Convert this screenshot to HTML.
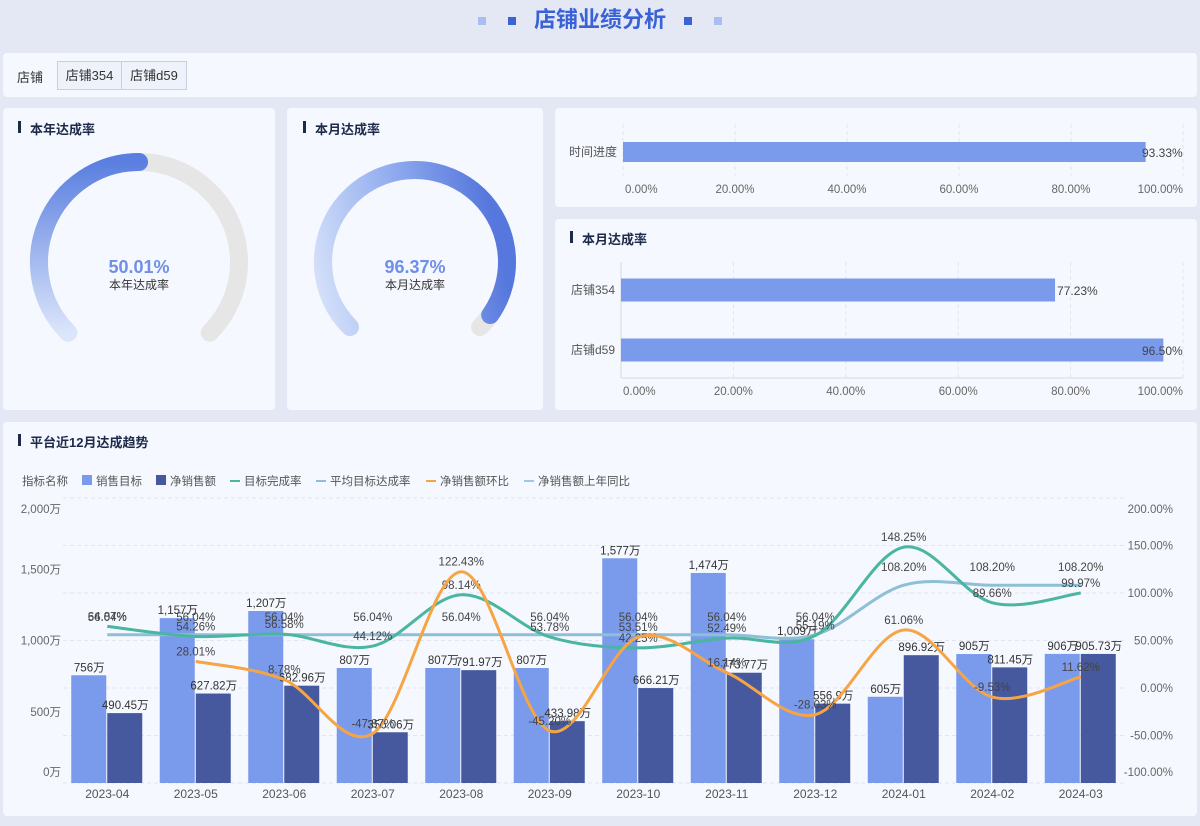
<!DOCTYPE html>
<html><head><meta charset="utf-8">
<style>
body{margin:0;width:1200px;height:826px;background:#e3e8f4;font-family:"Liberation Sans","Noto Sans CJK SC",sans-serif;position:relative;overflow:hidden;color:#333}
.card{position:absolute;background:#f5f8fe;border-radius:4px}
.ttl{position:absolute;font-size:13px;font-weight:bold;color:#1d2a4a}
.ttl:before{content:"";position:absolute;left:-12px;top:2px;width:3px;height:12px;background:#1d2a4a}
svg text{font-family:"Liberation Sans","Noto Sans CJK SC",sans-serif}
</style></head><body>
<div style="position:absolute;left:0;top:0;width:1200px;height:40px;text-align:center;line-height:40px;font-size:22px;font-weight:bold;color:#3a62d8">
<span style="display:inline-block;width:8px;height:8px;background:#a9bdf3;margin-right:22px;vertical-align:middle"></span><span style="display:inline-block;width:8px;height:8px;background:#3a62d8;margin-right:18px;vertical-align:middle"></span>店铺业绩分析<span style="display:inline-block;width:8px;height:8px;background:#3a62d8;margin-left:18px;vertical-align:middle"></span><span style="display:inline-block;width:8px;height:8px;background:#a9bdf3;margin-left:22px;vertical-align:middle"></span></div>

<div class="card" style="left:3px;top:53px;width:1194px;height:44px">
<div style="position:absolute;left:14px;top:14px;font-size:13px">店铺</div>
<div style="position:absolute;left:54px;top:8px;width:63px;height:27px;border:1px solid #c9cfe0;background:#eef2fb;font-size:13px;line-height:27px;text-align:center">店铺354</div>
<div style="position:absolute;left:118px;top:8px;width:64px;height:27px;border:1px solid #c9cfe0;background:#eef2fb;font-size:13px;line-height:27px;text-align:center">店铺d59</div>
</div>

<div class="card" style="left:3px;top:108px;width:272px;height:302px"><div class="ttl" style="left:27px;top:11px">本年达成率</div></div>
<div class="card" style="left:287px;top:108px;width:256px;height:302px"><div class="ttl" style="left:28px;top:11px">本月达成率</div></div>
<div class="card" style="left:555px;top:108px;width:642px;height:99px"></div>
<div class="card" style="left:555px;top:219px;width:642px;height:191px"><div class="ttl" style="left:27px;top:10px">本月达成率</div></div>
<div class="card" style="left:3px;top:422px;width:1194px;height:394px"><div class="ttl" style="left:27px;top:10px">平台近12月达成趋势</div></div>

<svg id="svg" width="1200" height="826" style="position:absolute;left:0;top:0">
<defs>
<linearGradient id="g1" x1="0" y1="1" x2="0" y2="0"><stop offset="0" stop-color="#dbe5fb"/><stop offset="1" stop-color="#5b7fe0"/></linearGradient>
<linearGradient id="g2" x1="0" y1="0.9" x2="1" y2="0.7"><stop offset="0" stop-color="#d4e0fa"/><stop offset="0.5" stop-color="#94afef"/><stop offset="1" stop-color="#5677dd"/></linearGradient>
</defs>
<g id="gauges"></g><g id="hbars"></g><g id="trend"></g>
</svg>

<script>
const yearRate=50.01, monthRate=96.37;
const progCats=['时间进度'], progVals=[93.33];
const storeCats=['店铺354','店铺d59'], storeVals=[77.23,96.50];
const pctTicks=[0,20,40,60,80,100];
const months=['2023-04','2023-05','2023-06','2023-07','2023-08','2023-09','2023-10','2023-11','2023-12','2024-01','2024-02','2024-03'];
const salesTarget=[756,1157,1207,807,807,807,1577,1474,1009,605,905,906];
const netSales=[490.45,627.82,682.96,356.06,791.97,433.98,666.21,773.77,556.90,896.92,811.45,905.73];
const completion=[64.87,54.26,56.58,44.12,98.14,53.78,42.25,52.49,55.19,148.25,89.66,99.97];
const avgRate=[56.04,56.04,56.04,56.04,56.04,56.04,56.04,56.04,56.04,108.20,108.20,108.20];
const mom=[null,28.01,8.78,-47.87,122.43,-45.20,53.51,16.14,-28.03,61.06,-9.53,11.62];
const leftTicks=[0,500,1000,1500,2000];
const rightTicks=[-100,-50,0,50,100,150,200];

const NS='http://www.w3.org/2000/svg';
function mk(parent,tag,attrs,txt){const e=document.createElementNS(NS,tag);for(const k in attrs)e.setAttribute(k,attrs[k]);if(txt!=null)e.textContent=txt;parent.appendChild(e);return e;}
const fmt=v=>v.toLocaleString('en-US',{maximumFractionDigits:2});

const G=document.getElementById('gauges');
function arcPath(cx,cy,r,a0,a1){const p=a=>[cx+r*Math.cos(a*Math.PI/180),cy+r*Math.sin(a*Math.PI/180)];const s=p(a0),e=p(a1);return `M${s[0]} ${s[1]} A${r} ${r} 0 ${a1-a0>180?1:0} 1 ${e[0]} ${e[1]}`;}
function gauge(cx,cy,r,val,grad,label,name){
 let bg=mk(G,'path',{d:arcPath(cx,cy,r,135,405),fill:'none',stroke:'#e6e6e6','stroke-width':18,'stroke-linecap':'round'});
 
 let fg=mk(G,'path',{d:arcPath(cx,cy,r,135,135+270*val/100),fill:'none',stroke:grad,'stroke-width':18,'stroke-linecap':'round'});
 
 let t=mk(G,'text',{x:cx,y:cy+11,'text-anchor':'middle','font-size':18,'font-weight':'bold',fill:'#6f8fe8'},val.toFixed(2)+'%');
 
 let l=mk(G,'text',{x:cx,y:cy+27,'text-anchor':'middle','font-size':12,fill:'#333'},label);
 
}
gauge(139,262,100,yearRate,'url(#g1)','本年达成率','year-gauge');
gauge(415,262,92,monthRate,'url(#g2)','本月达成率','month-gauge');

const H=document.getElementById('hbars');
function hbar(x0,x1,yTop,yBot,cats,vals,bandTop,bandH,barH,labY,name,axisLine){
 const xs=v=>x0+(x1-x0)*v/100;
 pctTicks.forEach((t,i)=>{
  let g=mk(H,'line',{x1:xs(t),x2:xs(t),y1:yTop,y2:yBot,stroke:'#e3e6ee','stroke-dasharray':'4 3'});
  
  let anc=i==0?'start':(i==pctTicks.length-1?'end':'middle');
  let tx=mk(H,'text',{x:xs(t)+(i==0?2:0),y:labY,'text-anchor':anc,'font-size':11.5,fill:'#666'},t.toFixed(2)+'%');
  
 });
 if(axisLine){let a=mk(H,'line',{x1:x0,x2:x1,y1:yBot,y2:yBot,stroke:'#d5d9e2'});
  let b=mk(H,'line',{x1:x0,x2:x0,y1:yTop,y2:yBot,stroke:'#d5d9e2'});}
 cats.forEach((c,i)=>{
  const cy=bandTop+bandH*(i+0.5);
  let r=mk(H,'rect',{x:x0,y:cy-barH/2,width:xs(vals[i])-x0,height:barH,fill:'#7a9aeb'});
  
  let l=mk(H,'text',{x:x0-6,y:cy+4,'text-anchor':'end','font-size':12,fill:'#555'},c);
  
  let v=mk(H,'text',{x:Math.min(xs(vals[i])+2,1142),y:cy+5,'font-size':12,fill:'#444'},vals[i].toFixed(2)+'%');
  
 });
}
hbar(623,1183,124,176,progCats,progVals,122,60,20,193,'time-progress',false);
hbar(621,1183,262,378,storeCats,storeVals,260,60,23,395,'store-rate',true);

const T=document.getElementById('trend');
const X0=63,X1=1125,YB=783,YT=498;
const band=(X1-X0)/months.length;
const xc=i=>X0+band*(i+0.5);
const yL=v=>YB-(YB-YT)*v/2000;
const yR=v=>YB-(YB-YT)*(v+100)/300;
rightTicks.forEach(t=>{
 let g=mk(T,'line',{x1:X0,x2:X1,y1:yR(t),y2:yR(t),stroke:'#e1e5ee','stroke-dasharray':'4 3'});
 
 let y=Math.min(Math.max(yR(t)+4,513),776);
 let tx=mk(T,'text',{x:1173,y:y,'text-anchor':'end','font-size':11.5,fill:'#666'},t.toFixed(2)+'%');
 
});
leftTicks.forEach(t=>{
 let y=Math.min(Math.max(yL(t)+4,513),776);
 let tx=mk(T,'text',{x:61,y:y,'text-anchor':'end','font-size':11.5,fill:'#666'},fmt(t)+'万');
 
});
months.forEach((m,i)=>{
 let tx=mk(T,'text',{x:xc(i),y:798,'text-anchor':'middle','font-size':12,fill:'#555'},m);
 
 let b1=mk(T,'rect',{x:xc(i)-36,y:yL(salesTarget[i]),width:35,height:YB-yL(salesTarget[i]),fill:'#7a9aeb'});
 
 let b2=mk(T,'rect',{x:xc(i),y:yL(netSales[i]),width:35,height:YB-yL(netSales[i]),fill:'#46599e'});
 
 let l1=mk(T,'text',{x:xc(i)-18,y:yL(salesTarget[i])-4,'text-anchor':'middle','font-size':11.5,fill:'#333'},fmt(salesTarget[i])+'万');
 
 let l2=mk(T,'text',{x:xc(i)+18,y:yL(netSales[i])-4,'text-anchor':'middle','font-size':11.5,fill:'#333'},fmt(netSales[i])+'万');
 
});
function smooth(pts){let d=`M${pts[0][0]} ${pts[0][1]}`;for(let i=0;i<pts.length-1;i++){const p0=pts[i-1]||pts[i],p1=pts[i],p2=pts[i+1],p3=pts[i+2]||p2;const k=1/6;d+=` C${p1[0]+(p2[0]-p0[0])*k} ${p1[1]+(p2[1]-p0[1])*k} ${p2[0]-(p3[0]-p1[0])*k} ${p2[1]-(p3[1]-p1[1])*k} ${p2[0]} ${p2[1]}`;}return d;}
function line(vals,color,name,w,off){
 const pts=[];vals.forEach((v,i)=>{if(v!=null)pts.push([xc(i),yR(v),v]);});
 let p=mk(T,'path',{d:smooth(pts),fill:'none',stroke:color,'stroke-width':w});
 
 pts.forEach(q=>{let t=mk(T,'text',{x:q[0],y:q[1]+off,'text-anchor':'middle','font-size':11.5,fill:'#444'},q[2].toFixed(2)+'%');
  });
}
line(avgRate,'#8dbfd6','avg-target-rate',3,-14);
line(completion,'#4ab5a0','completion-rate',3,-6);
line(mom,'#f7a444','mom-growth',3,-6);

const leg=[['指标名称',null,0],['销售目标','#7a9aeb','rect'],['净销售额','#46599e','rect'],['目标完成率','#4ab5a0','line'],['平均目标达成率','#8dbfd6','line'],['净销售额环比','#f7a444','line'],['净销售额上年同比','#9ec9e0','line']];
let lx=22;
leg.forEach(([n,c,t])=>{
 if(c){ if(t=='rect'){let r=mk(T,'rect',{x:lx,y:475,width:10,height:10,fill:c});}
  else{let r=mk(T,'line',{x1:lx,x2:lx+10,y1:481,y2:481,stroke:c,'stroke-width':2});}
  lx+=14;}
 let tx=mk(T,'text',{x:lx,y:485,'font-size':11.5,fill:'#555'},n);
 
 lx+=n.length*12+12;
});
</script>
</body></html>
